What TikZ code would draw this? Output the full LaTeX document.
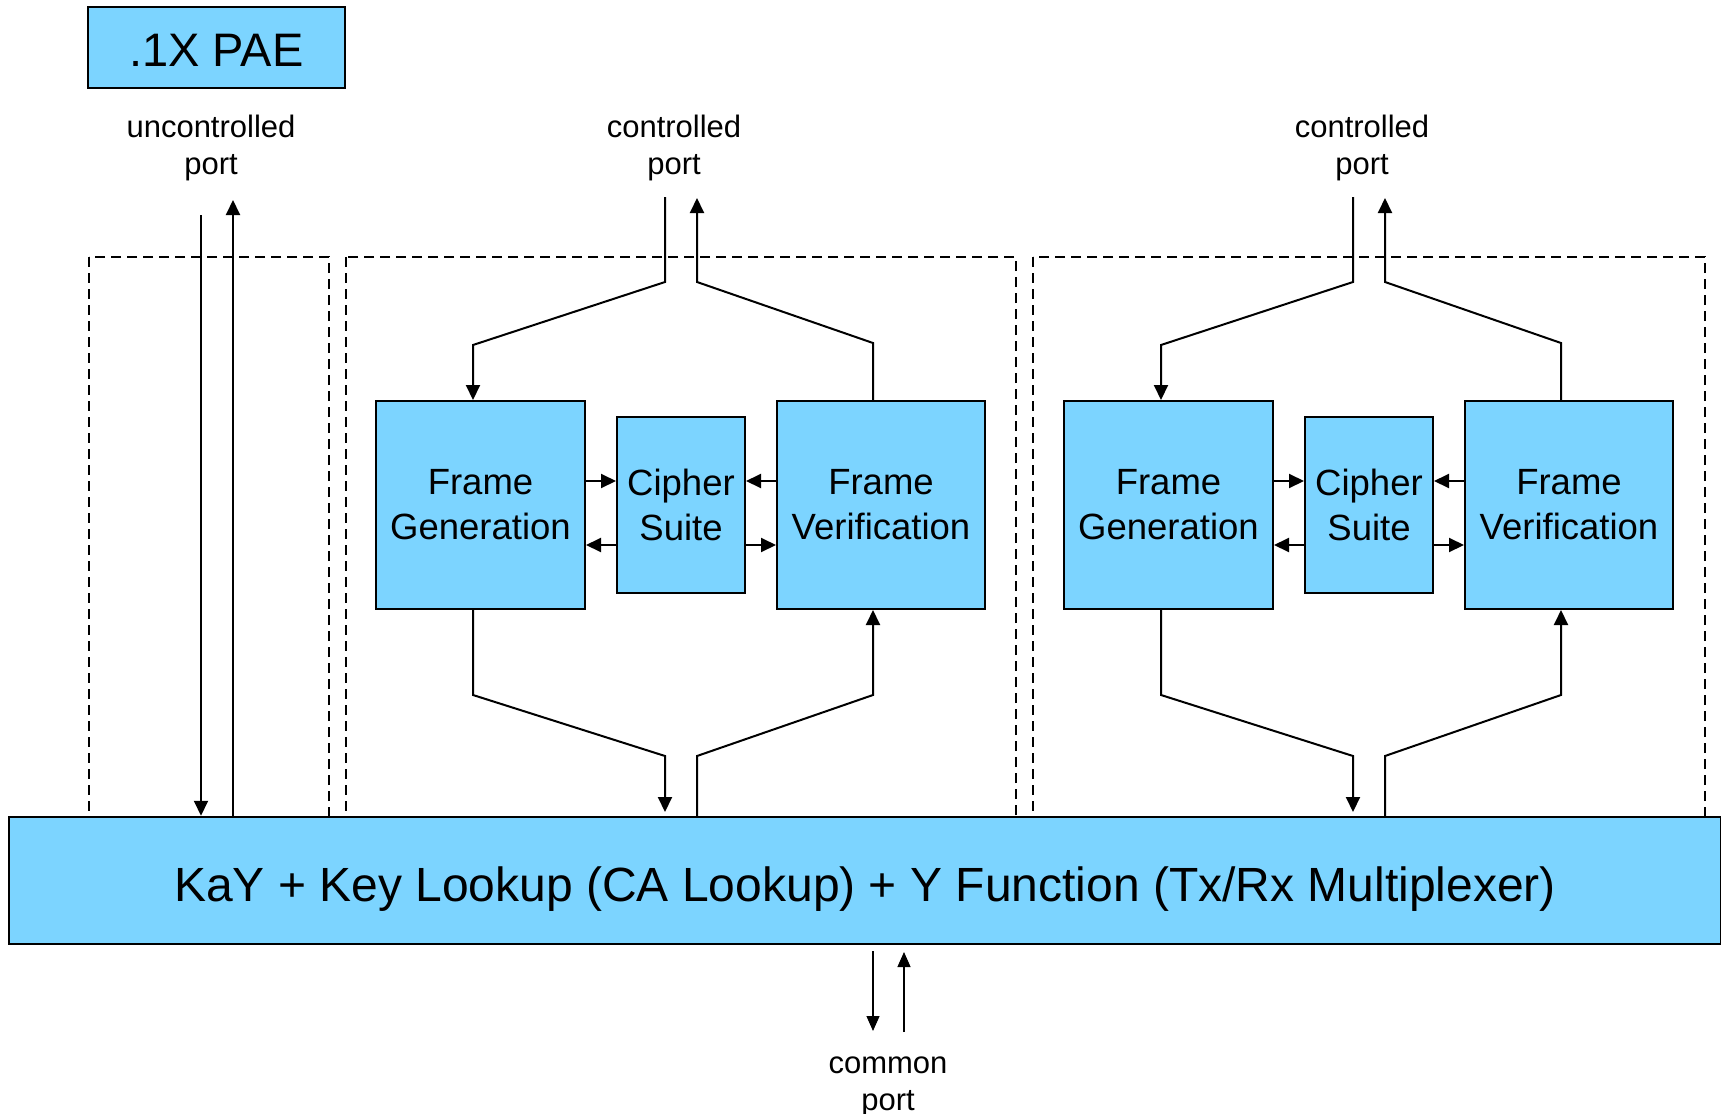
\documentclass[tikz,border=0pt]{standalone}
\usepackage{fontspec}
\setmainfont{Liberation Sans}
\usetikzlibrary{arrows.meta,calc}
\definecolor{boxblue}{RGB}{124,212,255}
\begin{document}
\begin{tikzpicture}[x=0.5pt,y=-0.5pt,
  blk/.style={draw=black, line width=1pt, fill=boxblue, inner sep=0pt, align=center,
    font=\fontsize{18.25}{22.5}\selectfont},
  lbl/.style={align=center, inner sep=0pt, font=\fontsize{15.5}{18.5}\selectfont},
  zone/.style={draw=black, dash pattern=on 5pt off 3pt, line width=0.75pt},
  wire/.style={line width=1pt},
  arr/.style={wire, -{Triangle[length=7.5pt,width=7pt]}},
  thinarr/.style={line width=0.6pt, -{Triangle[length=7.5pt,width=6.5pt]}},
]
\useasboundingbox (0,0) rectangle (1721,1114);

% title box
\node[blk, font=\fontsize{23.5}{28}\selectfont, text height=18.8pt, text depth=0pt,
  minimum width=128.5pt, minimum height=40.5pt]
  (pae) at (216.5,47.5) {.1X PAE};

% dashed port zones
\draw[zone] (89,257) rectangle (329,817);
\draw[zone] (346,257) rectangle (1016,817);
\draw[zone] (1033,257) rectangle (1705,817);

% port labels
\node[lbl] (unctl) at (211,147.5) {uncontrolled\\port};
\node[lbl] (ctl1) at (674,148) {controlled\\port};
\node[lbl] (ctl2) at (1362,148) {controlled\\port};
\node[lbl] (common) at (888,1087) {common\\port};

% KaY / multiplexer block
\node[blk, line width=1.25pt, font=\fontsize{24}{29}\selectfont,
  text height=25.5pt, text depth=5pt,
  minimum width=856pt, minimum height=63.5pt] (kay) at (865,880.5)
  {KaY + Key Lookup (CA Lookup) + Y Function (Tx/Rx Multiplexer)};

% uncontrolled port
\coordinate (ud) at (201,215);
\coordinate (uu) at (233,200);
\draw[arr] (ud) -- (ud |- kay.north);
\draw[arr] (uu |- kay.north) -- (uu);

% common port
\coordinate (cda) at (873,951);
\coordinate (cdb) at (873,1031);
\coordinate (cua) at (904,1032);
\coordinate (cub) at (904,952);
\draw[thinarr] (cda) -- (cdb);
\draw[thinarr] (cua) -- (cub);

% two controlled ports, each with frame generation / cipher suite / frame verification
\foreach \i/\dx in {1/0, 2/688} {
  \node[blk, minimum width=104.5pt, minimum height=104pt] (fg\i) at (480.5+\dx,505) {Frame\\Generation};
  \node[blk, minimum width=64pt, minimum height=88pt] (cs\i) at (681+\dx,505) {Cipher\\Suite};
  \node[blk, minimum width=104pt, minimum height=104pt] (fv\i) at (881+\dx,505) {Frame\\Verification};

  \coordinate (pd\i) at (665+\dx,197);
  \coordinate (pu\i) at (697+\dx,198);
  \coordinate (bd\i) at (665+\dx,812);
  \coordinate (bu\i) at (697+\dx,817);

  % controlled port to frame generation, frame verification to controlled port
  \draw[arr] (pd\i) -- (665+\dx,282) -- ($(fg\i.north)+(-7.5,-55)$) -- ($(fg\i.north)+(-7.5,0)$);
  \draw[arr] ($(fv\i.north)+(-8,0)$) -- ($(fv\i.north)+(-8,-57)$) -- (697+\dx,282) -- (pu\i);

  % frame generation to multiplexer, multiplexer to frame verification
  \draw[arr] ($(fg\i.south)+(-7.5,0)$) -- ($(fg\i.south)+(-7.5,85)$) -- (665+\dx,756) -- (bd\i);
  \draw[arr] (bu\i) -- (697+\dx,756) -- ($(fv\i.south)+(-8,85)$) -- ($(fv\i.south)+(-8,0)$);

  % cipher suite exchanges
  \draw[arr] ($(fg\i.east)+(0,-24)$) -- ($(cs\i.west)+(0,-24)$);
  \draw[arr] ($(cs\i.west)+(0,40)$) -- ($(fg\i.east)+(0,40)$);
  \draw[arr] ($(fv\i.west)+(0,-24)$) -- ($(cs\i.east)+(0,-24)$);
  \draw[arr] ($(cs\i.east)+(0,40)$) -- ($(fv\i.west)+(0,40)$);
}
\end{tikzpicture}
\end{document}
